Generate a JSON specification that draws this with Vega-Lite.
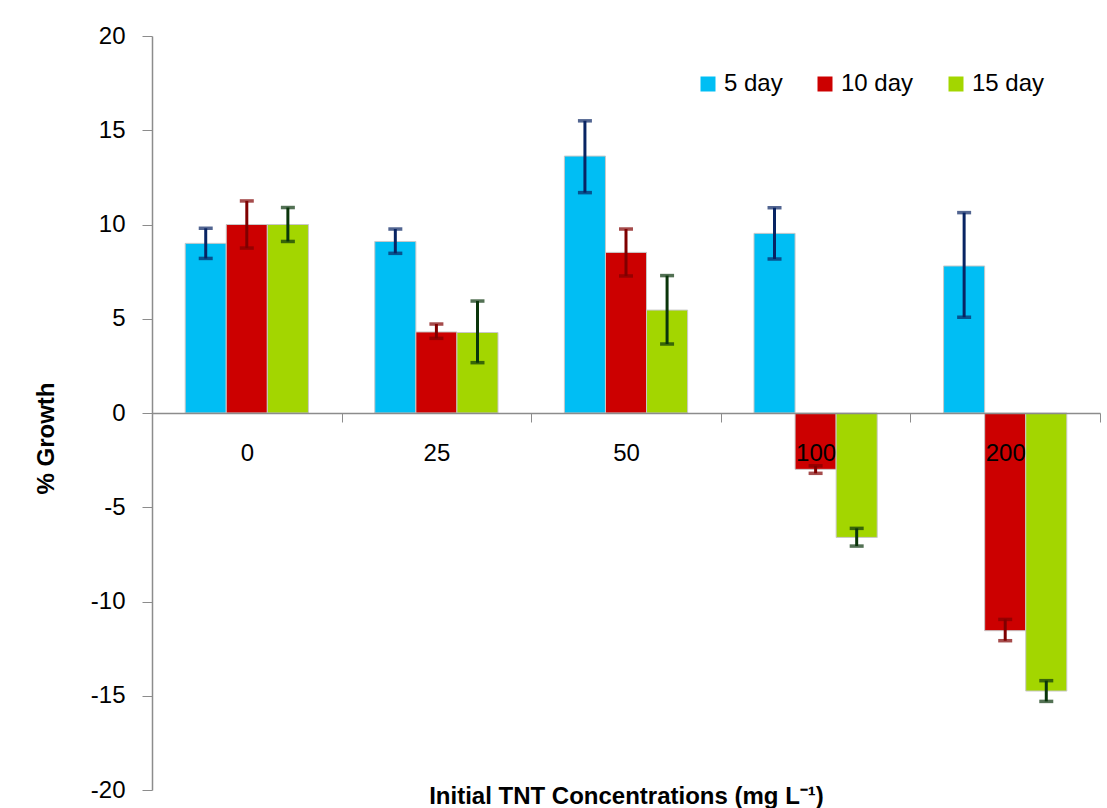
{
  "$schema": "https://vega.github.io/schema/vega-lite/v6.json",
  "width": 948,
  "height": 754,
  "autosize": {"type": "none"},
  "padding": {"left": 152, "top": 36, "right": 7, "bottom": 18},
  "background": "white",
  "config": {
    "font": "Liberation Sans",
    "view": {"stroke": null},
    "axis": {"grid": false}
  },
  "data": {
    "values": [
      {"conc": "0", "day": "5 day", "value": 9.0, "lo": 8.2, "hi": 9.8},
      {"conc": "0", "day": "10 day", "value": 10.0, "lo": 8.75, "hi": 11.25},
      {"conc": "0", "day": "15 day", "value": 10.0, "lo": 9.1, "hi": 10.9},
      {"conc": "25", "day": "5 day", "value": 9.1, "lo": 8.47, "hi": 9.76},
      {"conc": "25", "day": "10 day", "value": 4.3, "lo": 3.96, "hi": 4.72},
      {"conc": "25", "day": "15 day", "value": 4.27, "lo": 2.67, "hi": 5.94},
      {"conc": "50", "day": "5 day", "value": 13.63, "lo": 11.69, "hi": 15.5},
      {"conc": "50", "day": "10 day", "value": 8.52, "lo": 7.27, "hi": 9.76},
      {"conc": "50", "day": "15 day", "value": 5.46, "lo": 3.66, "hi": 7.29},
      {"conc": "100", "day": "5 day", "value": 9.53, "lo": 8.17, "hi": 10.89},
      {"conc": "100", "day": "10 day", "value": -2.99, "lo": -3.2, "hi": -2.8},
      {"conc": "100", "day": "15 day", "value": -6.6, "lo": -7.06, "hi": -6.12},
      {"conc": "200", "day": "5 day", "value": 7.8, "lo": 5.08, "hi": 10.63},
      {"conc": "200", "day": "10 day", "value": -11.55, "lo": -12.08, "hi": -10.95},
      {"conc": "200", "day": "15 day", "value": -14.75, "lo": -15.3, "hi": -14.2}
    ]
  },
  "encoding": {
    "x": {
      "field": "conc",
      "type": "nominal",
      "sort": ["0", "25", "50", "100", "200"],
      "scale": {"paddingInner": 0, "paddingOuter": 0},
      "axis": {
        "title": "Initial TNT Concentrations (mg L⁻¹)",
        "offset": -377,
        "zindex": 2,
        "labelAngle": 0,
        "labelFontSize": 24,
        "labelColor": "black",
        "labelPadding": 19,
        "tickBand": "extent",
        "tickSize": 9,
        "tickColor": "#8c8c8c",
        "domainColor": "#8c8c8c",
        "domainWidth": 1.5,
        "titleFontSize": 24,
        "titleFontWeight": "bold",
        "titleColor": "black",
        "titleBaseline": "alphabetic",
        "titleY": 390
      }
    },
    "xOffset": {
      "field": "day",
      "type": "nominal",
      "sort": ["5 day", "10 day", "15 day"],
      "scale": {"paddingInner": 0, "paddingOuter": 0.808}
    }
  },
  "layer": [
    {
      "mark": {"type": "bar", "stroke": "#c8c8c8", "strokeWidth": 1},
      "encoding": {
        "y": {
          "field": "value",
          "type": "quantitative",
          "scale": {"domain": [-20, 20], "nice": false},
          "axis": {
            "title": "% Growth",
            "values": [-20, -15, -10, -5, 0, 5, 10, 15, 20],
            "labelExpr": "replace(datum.label, '−', '-')",
            "labelFontSize": 24,
            "labelColor": "black",
            "labelPadding": 17,
            "tickSize": 10,
            "tickColor": "#8c8c8c",
            "domainColor": "#8c8c8c",
            "domainWidth": 1.5,
            "titleFontSize": 24,
            "titleFontWeight": "bold",
            "titleColor": "black",
            "titlePadding": 32,
            "titleY": 402
          }
        },
        "color": {
          "field": "day",
          "type": "nominal",
          "sort": ["5 day", "10 day", "15 day"],
          "scale": {"domain": ["5 day", "10 day", "15 day"], "range": ["#00BEF4", "#CC0000", "#A3D600"]},
          "legend": {
            "title": null,
            "orient": "none",
            "legendX": 544,
            "legendY": 36,
            "direction": "horizontal",
            "symbolType": "square",
            "symbolSize": 225,
            "symbolStrokeWidth": 0,
            "labelFontSize": 24,
            "labelColor": "black",
            "labelOffset": 4,
            "columnPadding": 30
          }
        }
      }
    },
    {
      "mark": {"type": "rule", "strokeWidth": 3},
      "encoding": {
        "y": {"field": "lo", "type": "quantitative", "title": "% Growth"},
        "y2": {"field": "hi"},
        "color": {
          "field": "day",
          "type": "nominal",
          "scale": {"domain": ["5 day", "10 day", "15 day"], "range": ["#082463", "#7F0000", "#0A350B"]},
          "legend": null
        }
      }
    },
    {
      "mark": {"type": "tick", "thickness": 3.5, "size": 14},
      "encoding": {
        "y": {"field": "lo", "type": "quantitative", "title": "% Growth"},
        "color": {
          "field": "day",
          "type": "nominal",
          "scale": {"domain": ["5 day", "10 day", "15 day"], "range": ["#082463", "#7F0000", "#0A350B"]},
          "legend": null
        }
      }
    },
    {
      "mark": {"type": "tick", "thickness": 3.5, "size": 14},
      "encoding": {
        "y": {"field": "hi", "type": "quantitative", "title": "% Growth"},
        "color": {
          "field": "day",
          "type": "nominal",
          "scale": {"domain": ["5 day", "10 day", "15 day"], "range": ["#082463", "#7F0000", "#0A350B"]},
          "legend": null
        }
      }
    }
  ],
  "resolve": {"scale": {"color": "independent"}}
}
